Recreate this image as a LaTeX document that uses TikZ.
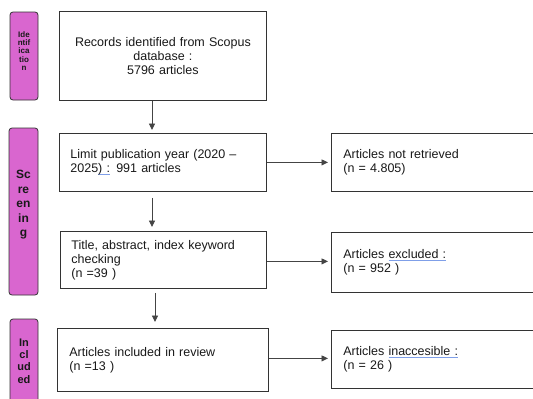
\documentclass[tikz,border=0pt]{standalone}
\usepackage{fontspec}
\setmainfont{Liberation Sans}
\usetikzlibrary{arrows.meta}
\definecolor{sidefill}{HTML}{D966CF}
\definecolor{edgec}{HTML}{333333}
\definecolor{linec}{HTML}{444444}
\definecolor{spellc}{HTML}{7F9FE8}
\newcommand\spellmark[1]{\setbox0\hbox{#1}\rlap{\textcolor{spellc}{\rule[-2.4pt]{\wd0}{0.7pt}}}#1}
\begin{document}
\begin{tikzpicture}[x=1pt,y=-1pt,
  box/.style={draw=edgec, line width=0.8pt, anchor=north west, inner ysep=0pt,
    font=\fontsize{12.5pt}{14pt}\selectfont, text=black!90},
  lbox/.style={box, align=left, inner xsep=11pt},
  sidebox/.style={draw=edgec, line width=0.8pt, fill=sidefill, rounded corners=3pt},
  sidetext/.style={font=\bfseries, align=center, text=black!90, inner sep=0pt},
  arr/.style={draw=linec, line width=0.9pt, -{Triangle[length=6.5pt,width=6pt]}}]
\clip (0,0) rectangle (533,399);
\fill[white] (0,0) rectangle (533,399);

% side phase boxes
\path[sidebox] (10,12) rectangle (38,100);
\node[sidetext, font=\fontsize{8pt}{8.4pt}\selectfont\bfseries] (lid) at (24,51) {Ide\\ntif\\ica\\tio\\n};
\path[sidebox] (9,128) rectangle (38,295);
\node[sidetext, font=\fontsize{12pt}{14.5pt}\selectfont\bfseries] (lsc) at (23.5,205) {Sc\\re\\en\\in\\g};
\path[sidebox] (10,319) rectangle (38,410);
\node[sidetext, font=\fontsize{11pt}{12.4pt}\selectfont\bfseries] (lin) at (24,361) {In\\cl\\ud\\ed};

% main boxes
\node[box, align=center, text width=207pt, inner xsep=0pt, minimum height=89pt] (b1) at (59,11)
  {Records identified from Scopus\\database :\\5796 articles};
\node[lbox, text width=185pt, minimum height=58pt] (b2) at (59,133)
  {Limit publication year (2020 --\\2025\spellmark{) :} 991 articles};
\node[lbox, text width=184pt, minimum height=57pt] (b3) at (60,231)
  {Title, abstract, index keyword\\checking\\(n =39 )};
\node[lbox, text width=187pt, minimum height=63pt, inner xsep=12pt] (b4) at (57,328)
  {Articles included in review\\(n =13 )};

% right boxes
\node[lbox, text width=196pt, minimum height=58pt, inner xsep=12pt] (r1) at (331,133)
  {Articles not retrieved\\(n = 4.805)};
\node[lbox, text width=196pt, minimum height=60pt, inner xsep=12pt] (r2) at (331,232)
  {Articles \spellmark{excluded :}\\(n = 952 )};
\node[lbox, text width=196pt, minimum height=58pt, inner xsep=12pt] (r3) at (331,330)
  {Articles \spellmark{inaccesible :}\\(n = 26 )};

% vertical connectors
\coordinate (va) at (152,0);
\coordinate (vb) at (155,0);
\draw[arr, shorten >=3pt] (b1.south -| va) -- (b2.north -| va);
\draw[arr, shorten <=6pt, shorten >=4pt] (b2.south -| va) -- (b3.north -| va);
\draw[arr, shorten <=4pt, shorten >=6pt] (b3.south -| vb) -- (b4.north -| vb);

% horizontal connectors
\draw[arr, shorten >=3pt] (b2.east) -- (b2.east -| r1.west);
\draw[arr, shorten >=3pt] ([yshift=-1.5pt]b3.east) -- ([yshift=-1.5pt]b3.east -| r2.west);
\draw[arr, shorten >=3pt] ([yshift=1.5pt]b4.east) -- ([yshift=1.5pt]b4.east -| r3.west);
\end{tikzpicture}
\end{document}
